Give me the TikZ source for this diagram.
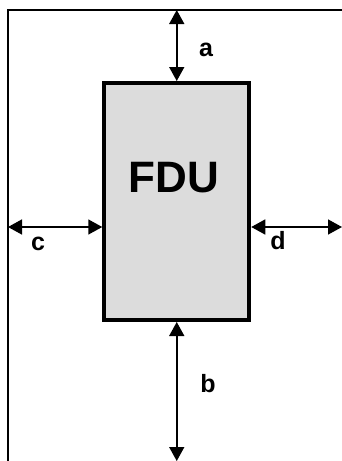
\documentclass[tikz,border=0pt]{standalone}
\usepackage{fontspec}
\setmainfont{Liberation Sans}
\usetikzlibrary{arrows.meta,positioning}
\definecolor{boxgray}{RGB}{220,220,220}

\begin{document}
\begin{tikzpicture}[
      x=1pt, y=-1pt,
      every node/.style={font=\bfseries},
      unit/.style={draw, line width=4pt, fill=boxgray, minimum width=145pt, minimum height=237pt, inner sep=0pt},
      title/.style={font=\fontsize{44}{44}\selectfont\bfseries, inner sep=0pt},
      gaplabel/.style={font=\fontsize{25}{25}\selectfont\bfseries, inner sep=0pt},
      frame/.style={line width=2pt},
      gap/.style={{Triangle[length=14pt,width=15pt]}-{Triangle[length=14pt,width=15pt]}, line width=1.5pt}
  ]
    \useasboundingbox (0,0) rectangle (342,461);
    \coordinate (topleft) at (8,10);
    \coordinate (topright) at (342,10);
    \coordinate (botleft) at (8,461);
    \coordinate (midline) at (0,227);
    \draw[frame] (topright) -- (topleft) -- (botleft);
    \node[unit] (fdu) at (176.75,201.5) {};
    \node[title] (name) at (174,178) {FDU};
    \coordinate (atop) at (fdu.north |- topleft);
    \coordinate (bbot) at (fdu.south |- botleft);
    \coordinate (cleft) at (topleft |- midline);
    \coordinate (dright) at (topright |- midline);
    \draw[gap] (atop) -- (fdu.north);
    \draw[gap] (fdu.south) -- (bbot);
    \draw[gap] (cleft) -- (fdu.west |- midline);
    \draw[gap] (fdu.east |- midline) -- (dright);
    \node[gaplabel] (a) at (206,50) {a};
    \node[gaplabel] (b) at (208,384) {b};
    \node[gaplabel] (c) at (38,244) {c};
    \node[gaplabel] (d) at (278,241) {d};
  \end{tikzpicture}
\end{document}
